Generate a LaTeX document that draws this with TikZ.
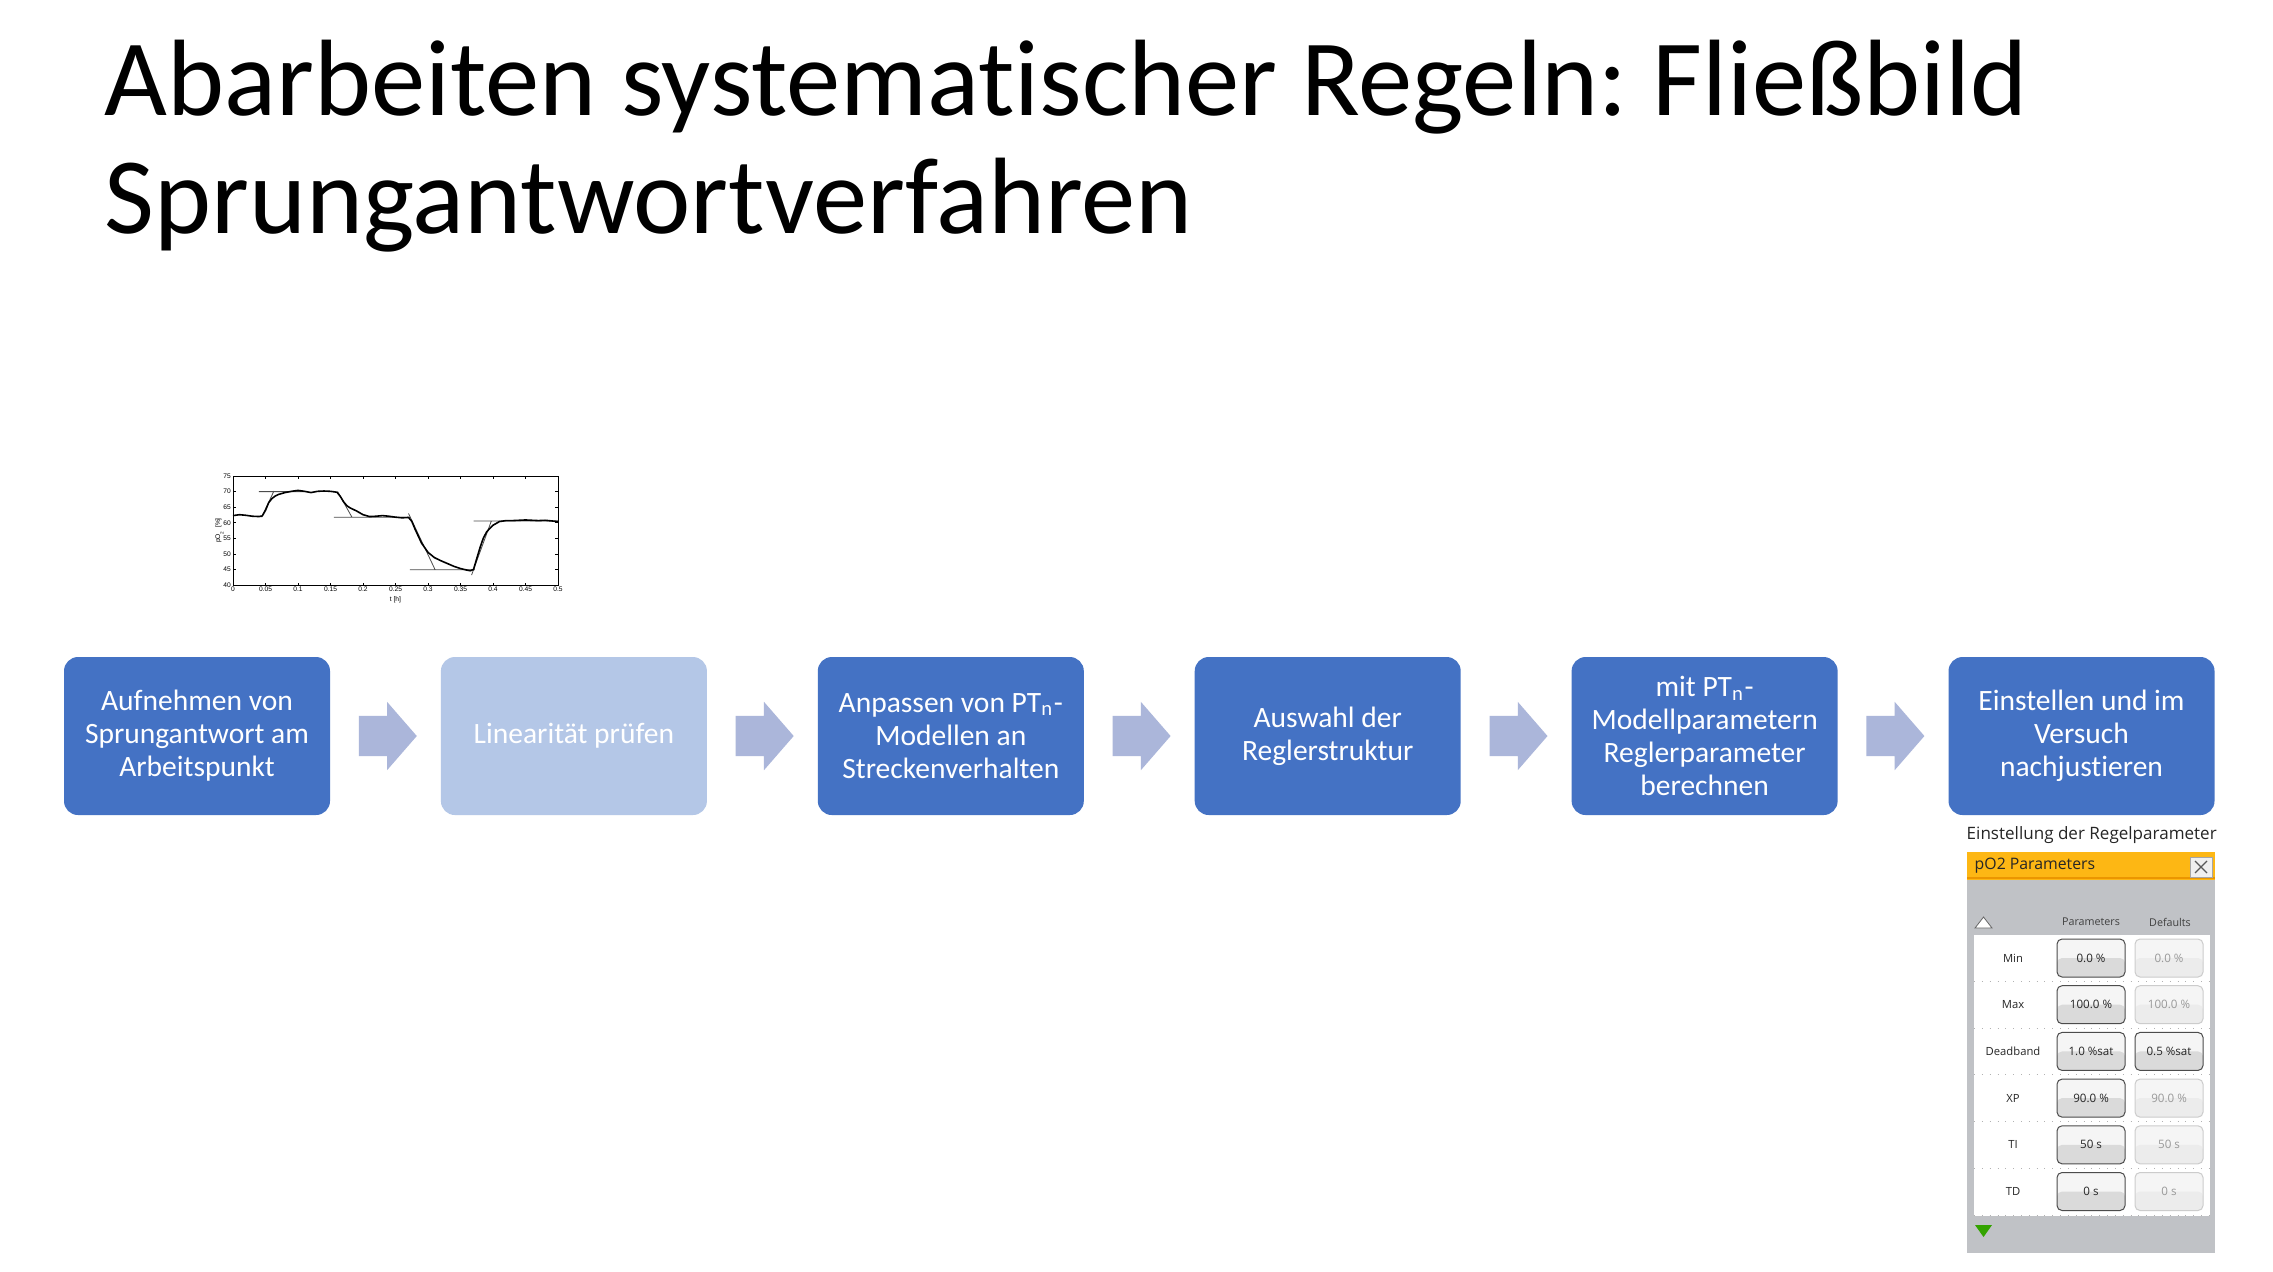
\documentclass[tikz,border=0pt]{standalone}
\usepackage{fontspec}
\setmainfont{Carlito}[Ligatures=NoCommon]
\newfontfamily\panelfont{Open Sans}
\newfontfamily\plotfont{Liberation Sans}
\usetikzlibrary{shapes.arrows,calc,positioning}
\frenchspacing

\definecolor{blau}{RGB}{68,114,196}
\definecolor{hellblau}{RGB}{180,199,231}
\definecolor{pfeilblau}{RGB}{171,182,218}
\definecolor{orangeleiste}{RGB}{253,183,20}
\definecolor{orangekante}{RGB}{235,150,0}
\definecolor{panelgrau}{RGB}{192,194,198}
\definecolor{knopfgrau}{RGB}{218,218,218}
\definecolor{knopfhell}{RGB}{236,236,236}

\tikzset{
  schritt/.style={fill=blau,rounded corners=1.4mm,minimum width=26.6mm,minimum height=15.8mm,
    align=center,text=white,inner sep=0pt,font=\fontsize{8.4}{9.4}\selectfont},
  pfeil/.style={single arrow,fill=pfeilblau,minimum width=6.7mm,minimum height=5.8mm,
    single arrow head extend=1.4mm,single arrow tip angle=98,inner xsep=0pt,inner ysep=1.95mm,
    anchor=tail},
  titel/.style={anchor=base west,inner sep=0pt,font=\fontsize{30.9}{33.6}\selectfont},
  knopf/.style={draw=black!70,line width=0.1mm,rounded corners=0.5mm,fill=white!96!black,
    minimum width=6.8mm,minimum height=3.8mm,inner sep=0pt,text=black!85,
    font=\panelfont\fontsize{3.3}{4}\selectfont,
    path picture={\fill[knopfgrau] (path picture bounding box.west) rectangle (path picture bounding box.south east);}},
  knopfaus/.style={knopf,draw=black!20,text=black!40,
    path picture={\fill[knopfhell] (path picture bounding box.west) rectangle (path picture bounding box.south east);}},
  zeile/.style={inner sep=0pt,text=black!85,font=\panelfont\fontsize{3.2}{4}\selectfont},
  kopf/.style={inner sep=0pt,text=black!75,font=\panelfont\fontsize{3.05}{4}\selectfont},
  achse/.style={inner sep=0.4pt,font=\plotfont\fontsize{1.9}{2.2}\selectfont}
}

\begin{document}
\begin{tikzpicture}[x=0.1mm,y=-0.1mm,node distance=10.95mm]
\useasboundingbox (0,0) rectangle (2273,1271);
\fill[white] (0,0) rectangle (2273,1271);

% Titel
\node[titel] (titel1) at (104,115) {Abarbeiten systematischer Regeln: Fließbild};
\node[titel] (titel2) at (104,233) {Sprungantwortverfahren};

% Prozessschritte
\node[schritt] (s1) at (197,736) {Aufnehmen von\\Sprungantwort am\\Arbeitspunkt};
\node[schritt,fill=hellblau] [right=of s1] (s2) {Linearität prüfen};
\node[schritt] [right=of s2] (s3) {Anpassen von PT\textsubscript{n}-\\Modellen an\\Streckenverhalten};
\node[schritt] [right=of s3] (s4) {Auswahl der\\Reglerstruktur};
\node[schritt] [right=of s4] (s5) {mit PT\textsubscript{n}-\\Modellparametern\\Reglerparameter\\berechnen};
\node[schritt] [right=of s5] (s6) {Einstellen und im\\Versuch\\nachjustieren};

\node[pfeil] (p1) at ($(s1.east)!0.25!(s2.west)$) {};
\node[pfeil] (p2) at ($(s2.east)!0.25!(s3.west)$) {};
\node[pfeil] (p3) at ($(s3.east)!0.25!(s4.west)$) {};
\node[pfeil] (p4) at ($(s4.east)!0.25!(s5.west)$) {};
\node[pfeil] (p5) at ($(s5.east)!0.25!(s6.west)$) {};

% Sprungantwort
\begin{scope}[shift={(233,709.6)},x=65mm,y=0.3114mm]
  \draw[line width=0.1mm] (0,40) rectangle (0.5,75);
  \foreach \t [count=\i] in {0,0.05,0.1,0.15,0.2,0.25,0.3,0.35,0.4,0.45,0.5} {
    \draw[line width=0.08mm] (\t,40) -- ++(0,0.8) (\t,75) -- ++(0,-0.8);
    \node[achse,anchor=north] (xt\i) at (\t,40) {\t};
  }
  \foreach \v [count=\i] in {40,45,50,55,60,65,70,75} {
    \draw[line width=0.08mm] (0,\v) -- ++(0.004,0) (0.5,\v) -- ++(-0.004,0);
    \node[achse,anchor=east] (yt\i) at (0,\v) {\v};
  }
  \node[achse] (xlabel) at (0.25,35.4) {t [h]};
  \node[achse,rotate=90] (ylabel) at (-0.021,57.5) {pO\textsubscript{2} [\%]};
  % Tangenten
  \draw[black!70,line width=0.08mm] (0.04,70) -- (0.11,70) (0.044,61.8) -- (0.063,70.2)
    (0.155,61.8) -- (0.272,61.8) (0.161,70) -- (0.183,61.8)
    (0.27,63) -- (0.311,44.9) (0.272,44.9) -- (0.372,44.9)
    (0.367,43.2) -- (0.3975,60.6) (0.37,60.6) -- (0.5,60.6);
  \draw[line width=0.16mm,line join=round] plot coordinates {
    (0,62.3) (0.01,62.6) (0.02,62.4) (0.03,62.1) (0.04,62.0) (0.045,62.2) (0.05,64)
    (0.055,66.5) (0.06,67.8) (0.065,68.6) (0.07,69.1) (0.08,69.7) (0.09,70.1) (0.1,70.4)
    (0.11,70.1) (0.12,69.7) (0.13,70.1) (0.14,70.2) (0.15,70.1) (0.16,69.8) (0.165,68.5)
    (0.17,66.8) (0.175,65.5) (0.18,64.8) (0.19,63.8) (0.2,62.6) (0.21,62.0) (0.22,62.1)
    (0.23,62.3) (0.24,62.1) (0.25,61.8) (0.26,61.6) (0.27,61.7) (0.275,60.5) (0.28,58)
    (0.29,53.5) (0.3,50.5) (0.31,48.8) (0.32,47.8) (0.33,46.9) (0.34,46.0) (0.35,45.3)
    (0.36,44.8) (0.365,44.6) (0.37,45) (0.375,48.5) (0.38,52) (0.385,55) (0.39,57)
    (0.395,58.2) (0.4,59.2) (0.41,60.4) (0.42,60.7) (0.43,60.7) (0.44,60.8) (0.45,60.9)
    (0.46,60.8) (0.47,60.7) (0.48,60.8) (0.49,60.6) (0.5,60.4)};
\end{scope}

% Regelparameter-Fenster
\node[anchor=west,inner sep=0pt,text=black!85,font=\panelfont\fontsize{4.85}{6}\selectfont]
  (einst) at (1966,835) {Einstellung der Regelparameter};
\fill[panelgrau] (1967,880) rectangle (2215,1253);
\fill[orangeleiste] (1967,852) rectangle (2215,880);
\draw[orangekante,line width=0.2mm] (1967,878) -- (2215,878);
\node[anchor=west,inner sep=0pt,text=black!85,font=\panelfont\fontsize{4.5}{6}\selectfont]
  (leiste) at (1974,866) {pO2 Parameters};
\node[draw=black!35,fill=white!94!black,line width=0.08mm,minimum width=2.2mm,minimum height=2mm,inner sep=0pt]
  (zu) at (2201,867) {};
\draw[black!65,line width=0.12mm] ($(zu.center)+(-6,-6)$) -- ($(zu.center)+(6,6)$)
  ($(zu.center)+(-6,6)$) -- ($(zu.center)+(6,-6)$);
\fill[white] (1974,935) rectangle (2210,1216);
\draw[fill=white,draw=black!60,line width=0.08mm] (1975,928) -- (1992,928) -- (1983.5,917) -- cycle;
\node[kopf] (kpar) at (2091,922) {Parameters};
\node[kopf] (kdef) at (2170,922) {Defaults};
\foreach \name/\wert/\std/\stil [count=\i from 0] in {
  Min/0.0 \%/0.0 \%/knopfaus, Max/100.0 \%/100.0 \%/knopfaus,
  Deadband/1.0 \%sat/0.5 \%sat/knopf, XP/90.0 \%/90.0 \%/knopfaus,
  TI/50 s/50 s/knopfaus, TD/0 s/0 s/knopfaus} {
  \node[zeile] (lbl\i) at (2013,958+46.7*\i) {\name};
  \node[knopf] (par\i) at (2091,958+46.7*\i) {\wert};
  \node[\stil] (def\i) at (2169,958+46.7*\i) {\std};
  \draw[black!30,dotted,line width=0.08mm] (1974,981.4+46.7*\i) -- (2210,981.4+46.7*\i);
}
\fill[green!55!black!80!yellow] (1975,1225) -- (1992,1225) -- (1983.5,1237) -- cycle;
\end{tikzpicture}
\end{document}
